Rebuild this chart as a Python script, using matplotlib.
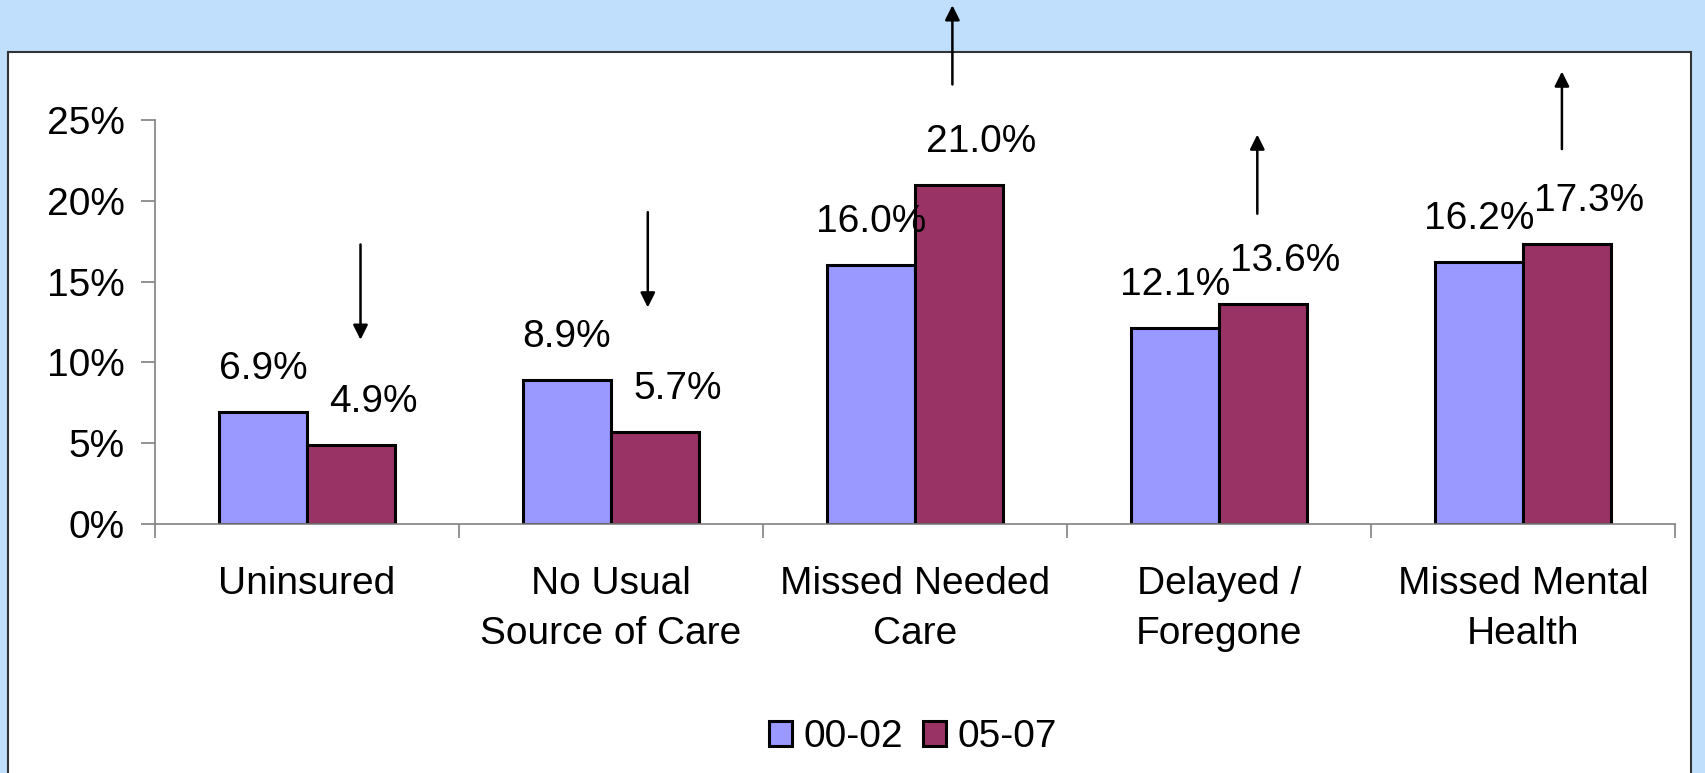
import matplotlib.pyplot as plt
import numpy as np
from matplotlib.patches import Rectangle

plt.rcParams['font.family'] = ['Liberation Sans', 'DejaVu Sans']

categories = ['Uninsured', 'No Usual\nSource of Care', 'Missed Needed\nCare',
              'Delayed /\nForegone', 'Missed Mental\nHealth']
series_names = ['00-02', '05-07']
vals_0002 = [6.9, 8.9, 16.0, 12.1, 16.2]
vals_0507 = [4.9, 5.7, 21.0, 13.6, 17.3]

# trend arrows per category: (x, tail y, head y) in data units
trend_arrows = [
    (0.176, 17.3, 11.4),
    (1.121, 19.3, 13.4),
    (2.123, 27.2, 32.1),
    (3.126, 19.2, 24.1),
    (4.128, 23.2, 28.0),
]

blue = '#9999FF'
plum = '#993366'
axis_grey = '#808080'
fs = 28

fig = plt.figure(figsize=(17.05, 7.73), dpi=100)
fig.patch.set_facecolor('#C0DFFD')

# white panel holding the chart
panel = Rectangle((8 / 1705, -0.05), (1691 - 8) / 1705, 1 - 52 / 773 + 0.05,
                  transform=fig.transFigure, facecolor='white',
                  edgecolor='#333333', lw=1.5, zorder=-10)
fig.patches.append(panel)

ax = fig.add_axes([155 / 1705, 1 - 524 / 773, (1675 - 155) / 1705, (524 - 120) / 773])
ax.set_facecolor('none')

x = np.arange(len(categories))
w = 0.29
b1 = ax.bar(x - w / 2, vals_0002, w, color=blue, edgecolor='black', lw=2.2, label=series_names[0])
b2 = ax.bar(x + w / 2, vals_0507, w, color=plum, edgecolor='black', lw=2.2, label=series_names[1])

for xi, v in zip(x - w / 2, vals_0002):
    ax.annotate(f'{v:.1f}%', (xi, v), xytext=(0, 31), textcoords='offset points',
                ha='center', va='center', fontsize=fs)
for xi, v in zip(x + w / 2, vals_0507):
    ax.annotate(f'{v:.1f}%', (xi, v), xytext=(16, 31), textcoords='offset points',
                ha='center', va='center', fontsize=fs)

for ax_x, y0, y1 in trend_arrows:
    ax.annotate('', xy=(ax_x, y1), xytext=(ax_x, y0), annotation_clip=False,
                arrowprops=dict(arrowstyle='-|>', color='black', lw=1.8,
                                mutation_scale=22, shrinkA=0, shrinkB=0))

ax.set_xlim(-0.5, len(categories) - 0.5)
ax.set_ylim(0, 25)
ax.set_yticks(range(0, 26, 5))
ax.set_yticklabels([f'{t}%' for t in range(0, 26, 5)], fontsize=fs)
ax.tick_params(axis='y', direction='out', length=10, width=1.2, color=axis_grey, pad=12)

ax.set_xticks(np.arange(-0.5, len(categories), 1.0))
ax.set_xticklabels([])
ax.set_xticks(x, minor=True)
ax.set_xticklabels(categories, minor=True, fontsize=fs, linespacing=1.5)
ax.tick_params(axis='x', which='major', direction='out', length=10, width=1.2, color=axis_grey)
ax.tick_params(axis='x', which='minor', length=0, pad=30)

for s in ['top', 'right']:
    ax.spines[s].set_visible(False)
for s in ['left', 'bottom']:
    ax.spines[s].set_color(axis_grey)
    ax.spines[s].set_linewidth(1.2)

fig.legend(handles=[b1, b2], labels=series_names, loc='center',
           bbox_to_anchor=(913 / 1705, 1 - 737 / 773), ncol=2, frameon=False,
           fontsize=fs, handlelength=0.6, handleheight=0.6, handletextpad=0.3,
           columnspacing=0.5)

fig.savefig('out.png', dpi=100, facecolor=fig.get_facecolor())
